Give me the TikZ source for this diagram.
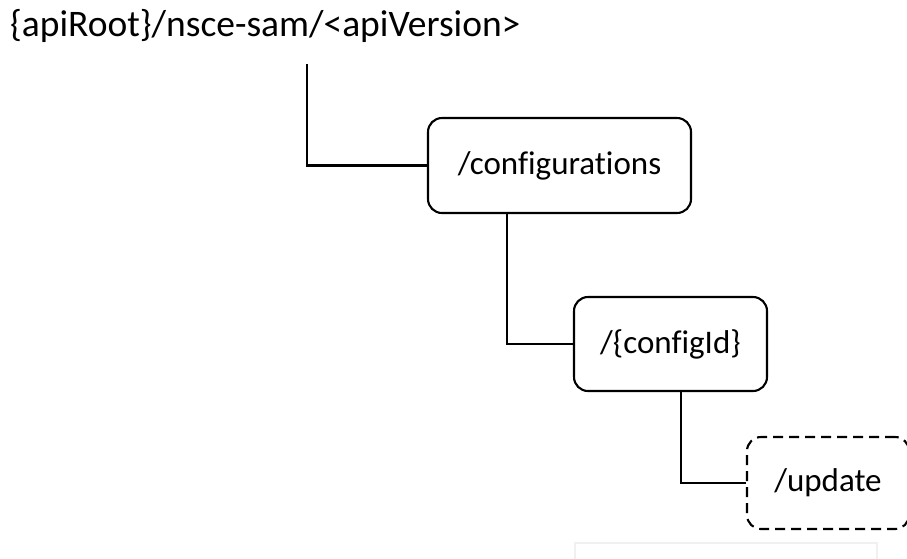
\documentclass[tikz,border=0pt]{standalone}
\usepackage{fontspec}
\setmainfont{Carlito}[Ligatures=NoCommon]
\begin{document}
\begin{tikzpicture}[x=1pt,y=-1pt,
  conn/.style={line width=2.1pt},
  resbox/.style={draw,line width=2.1pt,rounded corners=14pt,inner sep=0pt,font=\fontsize{33}{38}\selectfont},
  dashbox/.style={resbox,dash pattern=on 10pt off 6pt},
  faint/.style={draw=black!6,line width=1.2pt}]
\useasboundingbox (0,0) rectangle (907,558);
\clip (0,0) rectangle (907,558);
\node[anchor=base west,inner sep=0pt,font=\fontsize{37.5}{42}\selectfont] (root) at (10,36) {\{apiRoot\}/nsce-sam/<apiVersion>};
\coordinate (rootdrop) at (307,64);
\node[resbox,minimum width=263pt,minimum height=95pt] (conf) at (559.5,165.5) {/configurations};
\node[resbox,minimum width=193pt,minimum height=94pt] (cid) at (670.5,344) {/\{configId\}};
\node[dashbox,minimum width=162pt,minimum height=92pt] (upd) at (828,483) {/update};
\draw[faint] (575,600) -- (575,543) -- (877,543) -- (877,600);
\draw[conn] (rootdrop) |- (conf.west);
\draw[conn] (conf.south -| 507,0) |- (cid.west);
\draw[conn] (cid.south -| 681,0) |- (upd.west);
\end{tikzpicture}
\end{document}
